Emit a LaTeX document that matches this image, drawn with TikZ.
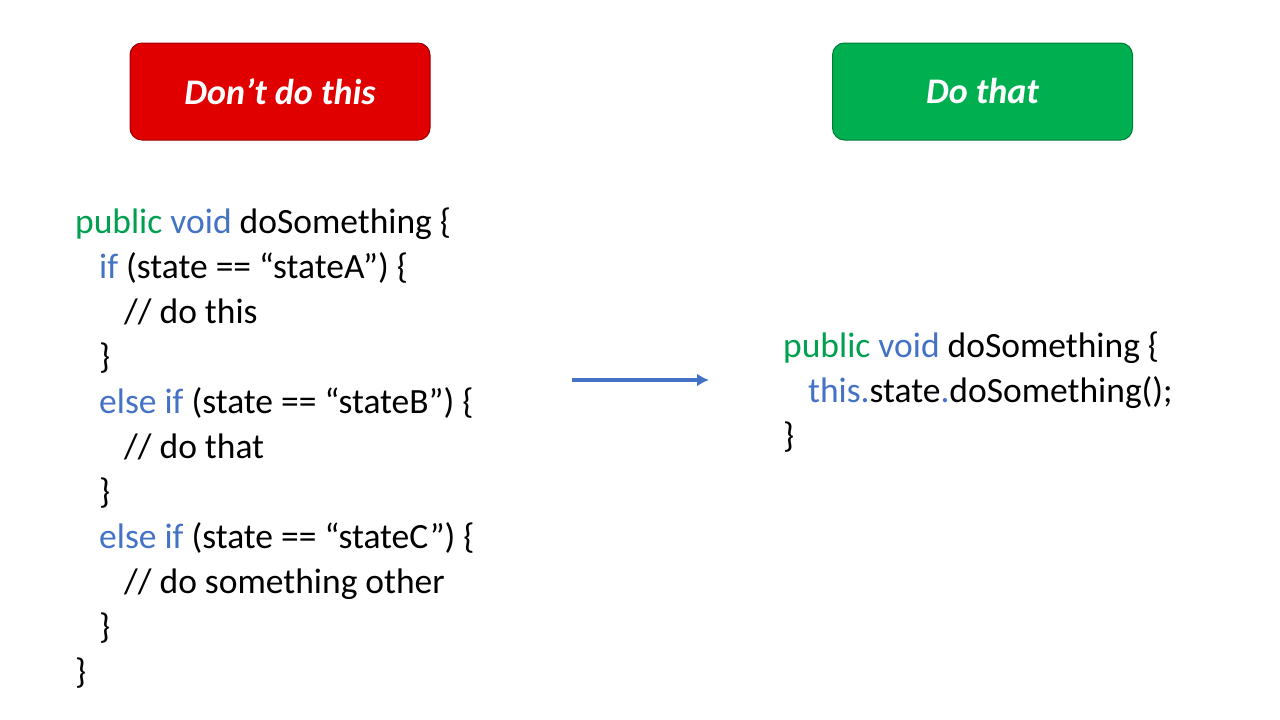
\documentclass[tikz,border=0pt]{standalone}
\usepackage{fontspec}
\usetikzlibrary{arrows.meta}
\setmainfont{Carlito}
\definecolor{kgreen}{HTML}{00A050}
\definecolor{kblue}{HTML}{4472C4}
\definecolor{bred}{HTML}{E00000}
\definecolor{bgreen}{HTML}{00B050}
\begin{document}
\begin{tikzpicture}[x=1pt,y=-1pt,
  box/.style={draw=#1!70!black,line width=1pt,rounded corners=12pt,fill=#1,minimum width=300pt,minimum height=97pt,text=white,font=\fontsize{36}{40}\selectfont\bfseries\itshape},
  code/.style={anchor=base west,inner sep=0pt,font=\fontsize{35.5}{40}\selectfont}]
\useasboundingbox (0,0) rectangle (1280,720);
\node[box=bred] (dont) at (280,91.5) {Don’t do this};
\node[box=bgreen] (do) at (982.5,91.5) {Do that};
\node[code] (l1) at (75,233) {\textcolor{kgreen}{public} \textcolor{kblue}{void} doSomething \{};
\node[code] (l2) at (99,278) {\textcolor{kblue}{if} (state == “stateA”) \{};
\node[code] (l3) at (124,323) {// do this};
\node[code] (l4) at (99,368) {\}};
\node[code] (l5) at (99,413) {\textcolor{kblue}{else if} (state == “stateB”) \{};
\node[code] (l6) at (124,458) {// do that};
\node[code] (l7) at (99,503) {\}};
\node[code] (l8) at (99,548) {\textcolor{kblue}{else if} (state == “stateC”) \{};
\node[code] (l9) at (124,593) {// do something other};
\node[code] (l10) at (99,638) {\}};
\node[code] (l11) at (75,683) {\}};
\node[code] (r1) at (783,357) {\textcolor{kgreen}{public} \textcolor{kblue}{void} doSomething \{};
\node[code] (r2) at (808,402) {\textcolor{kblue}{this.}state\textcolor{kblue}{.}doSomething();};
\node[code] (r3) at (783,447) {\}};
\coordinate (a1) at (572,380);
\coordinate (a2) at (709,380);
\draw[kblue,line width=4pt,-{Latex[length=12pt,width=13pt]}] (a1) -- (a2);
\end{tikzpicture}
\end{document}
